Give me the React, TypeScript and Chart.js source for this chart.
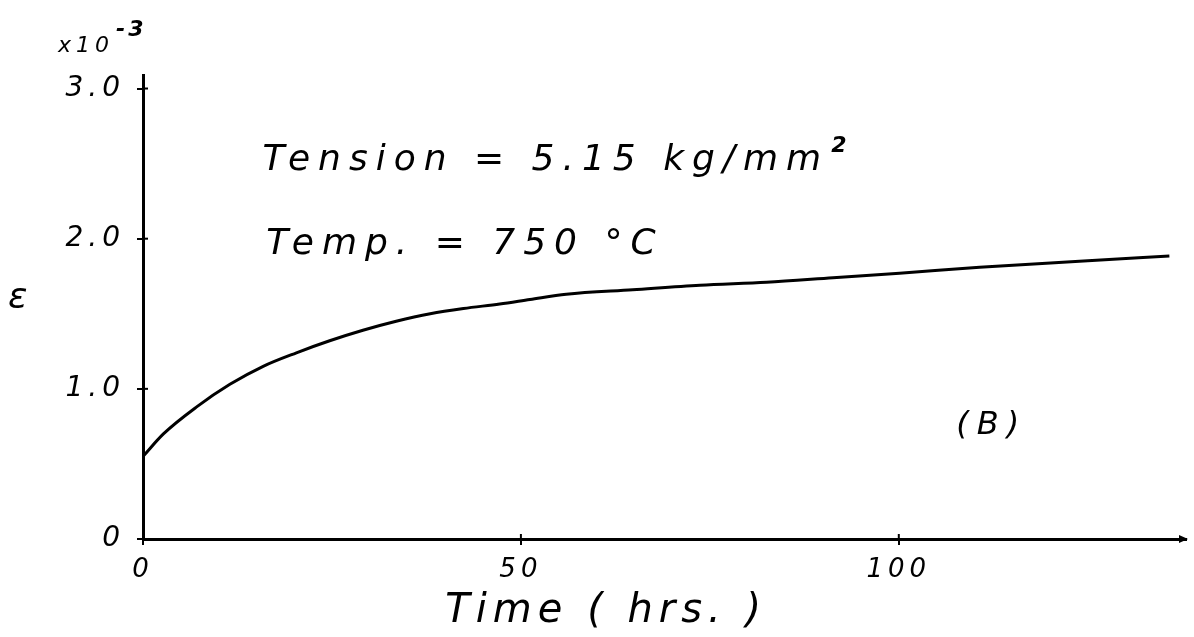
import React, { useEffect, useRef } from "react";
import { Chart, registerables } from "chart.js";

Chart.register(...registerables);

// Creep curve (B): strain (x10^-3) against time (hrs)
const TIME_HRS = [0, 2.7, 7.1, 11.5, 15.9, 20.3, 24.7, 29.1, 33.5, 38.0, 42.4, 47.2, 51.2, 56.0, 64.8, 73.7, 82.5, 91.3, 100.1, 110.7, 123.9, 135.8];
const STRAIN = [0.55, 0.7, 0.88, 1.03, 1.15, 1.24, 1.32, 1.39, 1.45, 1.5, 1.535, 1.565, 1.595, 1.63, 1.66, 1.69, 1.71, 1.74, 1.77, 1.81, 1.85, 1.885];

const X_TICKS = [0, 50, 100];
const X_TICK_LABELS = ["0", "50", "100"];
const Y_TICKS = [0, 1, 2, 3];
const Y_TICK_LABELS = ["0", "1.0", "2.0", "3.0"];

const X_MAX = 138;
const Y_MAX = 3.09;

const FONT = '"DejaVu Sans", sans-serif';

const annotations = {
  id: "annotations",
  beforeDraw(chart: any) {
    (chart.ctx as any).letterSpacing = "5px";
  },
  afterDraw(chart: any) {
    const { ctx, chartArea, scales } = chart;
    const xs = scales.x;
    const ys = scales.y;
    ctx.save();
    ctx.fillStyle = "#000";
    ctx.strokeStyle = "#000";
    ctx.lineWidth = 2;
    ctx.textAlign = "left";
    ctx.textBaseline = "alphabetic";

    // inner halves of the tick crosses
    Y_TICKS.forEach((v) => {
      if (v === 0) return;
      const py = ys.getPixelForValue(v);
      ctx.beginPath();
      ctx.moveTo(chartArea.left, py);
      ctx.lineTo(chartArea.left + 5, py);
      ctx.stroke();
    });
    X_TICKS.forEach((v) => {
      if (v === 0) return;
      const px = xs.getPixelForValue(v);
      ctx.beginPath();
      ctx.moveTo(px, chartArea.bottom);
      ctx.lineTo(px, chartArea.bottom - 5);
      ctx.stroke();
    });

    // arrow head at end of x axis
    const ax = chartArea.right;
    const ay = chartArea.bottom;
    ctx.beginPath();
    ctx.moveTo(ax + 2, ay);
    ctx.lineTo(ax - 7, ay - 4);
    ctx.lineTo(ax - 7, ay + 4);
    ctx.closePath();
    ctx.fill();

    // Tension line
    ctx.font = `italic 36px ${FONT}`;
    (ctx as any).letterSpacing = "8px";
    const tx = xs.getPixelForValue(15.8);
    const ty = ys.getPixelForValue(2.455);
    const t1 = "Tension = 5.15 kg/mm";
    ctx.fillText(t1, tx, ty);
    const w1 = ctx.measureText(t1).width;
    ctx.font = `italic bold 22px ${FONT}`;
    (ctx as any).letterSpacing = "0px";
    ctx.fillText("2", tx + w1 + 2, ty - 18);

    // Temp line
    ctx.font = `italic 36px ${FONT}`;
    (ctx as any).letterSpacing = "8px";
    ctx.fillText("Temp. = 750 °C", xs.getPixelForValue(16.3), ys.getPixelForValue(1.895));

    // (B)
    ctx.font = `italic 32px ${FONT}`;
    (ctx as any).letterSpacing = "8px";
    ctx.fillText("(B)", xs.getPixelForValue(107.6), ys.getPixelForValue(0.7));

    // x axis title
    ctx.font = `italic 40px ${FONT}`;
    (ctx as any).letterSpacing = "6px";
    ctx.fillText("Time ( hrs. )", xs.getPixelForValue(40.0), 622);

    // y axis symbol
    ctx.font = `italic 36px ${FONT}`;
    (ctx as any).letterSpacing = "0px";
    ctx.fillText("ε", 8, 308);

    // multiplier
    ctx.font = `italic 22px ${FONT}`;
    (ctx as any).letterSpacing = "5px";
    ctx.fillText("x10", 58, 52);
    ctx.font = `italic bold 22px ${FONT}`;
    (ctx as any).letterSpacing = "3px";
    ctx.fillText("-3", 116, 36);

    ctx.restore();
  },
};

export default function App() {
  const canvasRef = useRef<HTMLCanvasElement | null>(null);

  useEffect(() => {
    const canvas = canvasRef.current;
    if (!canvas) return;
    const points = TIME_HRS.map((t, i) => ({ x: t, y: STRAIN[i] }));
    const chart = new Chart(canvas, {
      type: "line",
      data: {
        datasets: [
          {
            data: points,
            borderColor: "#000",
            borderWidth: 3,
            pointRadius: 0,
            fill: false,
            cubicInterpolationMode: "monotone",
          },
        ],
      },
      options: {
        responsive: false,
        maintainAspectRatio: false,
        animation: false,
        layout: { padding: { top: 75, right: 8, left: 0, bottom: 0 } },
        plugins: { legend: { display: false }, tooltip: { enabled: false }, title: { display: false } },
        scales: {
          x: {
            type: "linear",
            min: 0,
            max: X_MAX,
            afterBuildTicks: (s: any) => {
              s.ticks = X_TICKS.map((value) => ({ value }));
            },
            afterFit: (s: any) => {
              s.height = 98;
            },
            ticks: {
              autoSkip: false,
              maxRotation: 0,
              padding: 10,
              color: "#000",
              font: { family: FONT, size: 26, style: "italic" },
              callback: (v: any) => X_TICK_LABELS[X_TICKS.indexOf(Number(v))] ?? "",
            },
            grid: { display: true, drawOnChartArea: false, drawTicks: true, tickLength: 6, color: "#000", lineWidth: 2 },
            border: { display: true, color: "#000", width: 3 },
          },
          y: {
            type: "linear",
            min: 0,
            max: Y_MAX,
            afterBuildTicks: (s: any) => {
              s.ticks = Y_TICKS.map((value) => ({ value }));
            },
            afterFit: (s: any) => {
              s.width = 143;
            },
            ticks: {
              autoSkip: false,
              padding: 12,
              color: "#000",
              font: { family: FONT, size: 28, style: "italic" },
              callback: (v: any) => Y_TICK_LABELS[Y_TICKS.indexOf(Number(v))] ?? "",
            },
            grid: { display: true, drawOnChartArea: false, drawTicks: true, tickLength: 6, color: "#000", lineWidth: 2 },
            border: { display: true, color: "#000", width: 3 },
          },
        },
      },
      plugins: [annotations],
    } as any);
    return () => chart.destroy();
  }, []);

  return (
    <div style={{ position: "fixed", left: 0, top: 0, width: 1194, height: 637, background: "#fff" }}>
      <canvas ref={canvasRef} width={1194} height={637} style={{ display: "block" }} />
    </div>
  );
}
